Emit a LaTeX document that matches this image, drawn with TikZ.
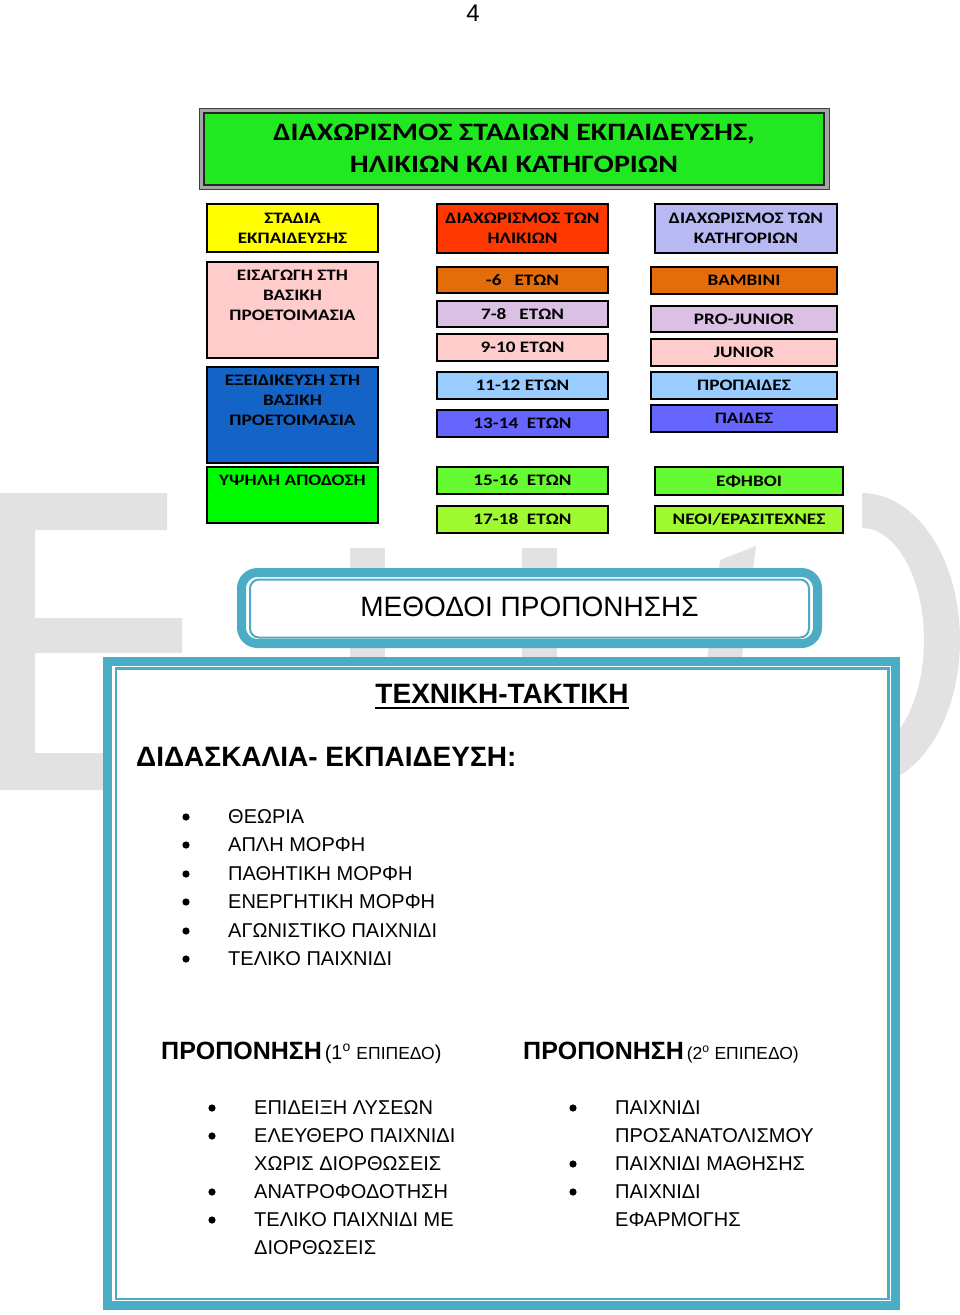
\documentclass[tikz,border=0pt]{standalone}
\usepackage{fontspec}
\setmainfont{Liberation Sans}
\newfontfamily\calib[FakeStretch=1.2]{Carlito}
\usetikzlibrary{positioning}
\definecolor{wmgray}{RGB}{226,226,226}
\definecolor{titlegreen}{RGB}{34,232,34}
\definecolor{stageyellow}{RGB}{255,255,0}
\definecolor{agered}{RGB}{255,55,0}
\definecolor{catlav}{RGB}{184,184,242}
\definecolor{pinkbox}{RGB}{255,204,204}
\definecolor{bluebox}{RGB}{20,100,200}
\definecolor{topgreen}{RGB}{0,250,0}
\definecolor{ageorange}{RGB}{228,108,10}
\definecolor{lilac}{RGB}{218,192,226}
\definecolor{skyblue}{RGB}{153,204,255}
\definecolor{violetblue}{RGB}{102,102,255}
\definecolor{limegreen}{RGB}{102,250,51}
\definecolor{yellowgreen}{RGB}{160,250,50}
\definecolor{aqua}{RGB}{75,172,198}
\begin{document}
\begin{tikzpicture}[x=1pt,y=-1pt,
  cell/.style={draw=black,line width=2.2pt,inner sep=0pt,align=center,font=\calib\bfseries\fontsize{16}{20}\selectfont},
  celltext/.style={inner sep=0pt,align=center,font=\calib\bfseries\fontsize{16}{20}\selectfont},
  bigtext/.style={inner sep=0pt,font=\bfseries\fontsize{28}{32}\selectfont},
  item/.style={anchor=west,inner sep=0pt,font=\fontsize{20}{24}\selectfont},
  wmark/.style={fill=wmgray,draw=none}]
\useasboundingbox (0,0) rectangle (960,1315);
\fill[white] (0,0) rectangle (960,1315);
\node (pagenum) [inner sep=0pt,font=\fontsize{24}{28}\selectfont] at (473,13) {4};
\fill[wmark] (0,493) -- (167,493) -- (167,530) -- (35,530) -- (35,618) -- (182,618) -- (182,653) -- (35,653) -- (35,753) -- (210,753) -- (210,790) -- (0,790) -- cycle;
\fill[wmark] (350,548) rectangle (385,790);
\fill[wmark] (522,548) rectangle (557,790);
\fill[wmark] (720,560) -- (756,546) -- (725,790) -- (690,790) -- cycle;
\begin{scope}
\clip (862,480) rectangle (970,800);
\fill[wmark,even odd rule] (862,640) ellipse [x radius=98,y radius=147] (862,640) ellipse [x radius=62,y radius=112];
\end{scope}
\draw[black!75,line width=1pt,fill=black!35] (199,108) rectangle (829,189);
\node (title) [draw=black!85,line width=2pt,fill=titlegreen,minimum width=620pt,minimum height=72pt,align=center,font=\calib\bfseries\fontsize{25}{32}\selectfont] at (514,148.5) {ΔΙΑΧΩΡΙΣΜΟΣ ΣΤΑΔΙΩΝ ΕΚΠΑΙΔΕΥΣΗΣ,\\ΗΛΙΚΙΩΝ ΚΑΙ ΚΑΤΗΓΟΡΙΩΝ};
\node (stages) [cell,fill=stageyellow,minimum width=171pt,minimum height=48pt] at (292.5,228) {ΣΤΑΔΙΑ\\ΕΚΠΑΙΔΕΥΣΗΣ};
\node (ages) [cell,fill=agered,minimum width=171pt,minimum height=49pt] at (522.5,228.5) {ΔΙΑΧΩΡΙΣΜΟΣ ΤΩΝ\\ΗΛΙΚΙΩΝ};
\node (categories) [cell,fill=catlav,minimum width=182pt,minimum height=49pt] at (746,228.5) {ΔΙΑΧΩΡΙΣΜΟΣ ΤΩΝ\\ΚΑΤΗΓΟΡΙΩΝ};
\node (intro) [cell,fill=pinkbox,minimum width=171pt,minimum height=96pt] at (292.5,310) {};
\node (introtext) [celltext,below=9pt of intro.north] {ΕΙΣΑΓΩΓΗ ΣΤΗ\\ΒΑΣΙΚΗ\\ΠΡΟΕΤΟΙΜΑΣΙΑ};
\node (special) [cell,fill=bluebox,minimum width=171pt,minimum height=96pt] at (292.5,415) {};
\node (specialtext) [celltext,below=9pt of special.north] {ΕΞΕΙΔΙΚΕΥΣΗ ΣΤΗ\\ΒΑΣΙΚΗ\\ΠΡΟΕΤΟΙΜΑΣΙΑ};
\node (high) [cell,fill=topgreen,minimum width=171pt,minimum height=56pt] at (292.5,495) {};
\node (hightext) [celltext,below=9pt of high.north] {ΥΨΗΛΗ ΑΠΟΔΟΣΗ};
\node (age6) [cell,fill=ageorange,minimum width=171pt,minimum height=26pt] at (522.5,280) {-6\ \ \ ΕΤΩΝ};
\node (age8) [cell,fill=lilac,minimum width=171pt,minimum height=26pt] at (522.5,314) {7-8\ \ \ ΕΤΩΝ};
\node (age10) [cell,fill=pinkbox,minimum width=171pt,minimum height=27pt] at (522.5,347.5) {9-10 ΕΤΩΝ};
\node (age12) [cell,fill=skyblue,minimum width=171pt,minimum height=27pt] at (522.5,385.5) {11-12 ΕΤΩΝ};
\node (age14) [cell,fill=violetblue,minimum width=171pt,minimum height=27pt] at (522.5,423.5) {13-14\ \ ΕΤΩΝ};
\node (age16) [cell,fill=limegreen,minimum width=171pt,minimum height=27pt] at (522.5,480.5) {15-16\ \ ΕΤΩΝ};
\node (age18) [cell,fill=yellowgreen,minimum width=171pt,minimum height=27pt] at (522.5,519.5) {17-18\ \ ΕΤΩΝ};
\node (bambini) [cell,fill=ageorange,minimum width=186pt,minimum height=27pt] at (744,280.5) {BAMBINI};
\node (projunior) [cell,fill=lilac,minimum width=186pt,minimum height=26pt] at (744,319) {PRO-JUNIOR};
\node (junior) [cell,fill=pinkbox,minimum width=186pt,minimum height=27pt] at (744,352.5) {JUNIOR};
\node (propaides) [cell,fill=skyblue,minimum width=186pt,minimum height=27pt] at (744,385.5) {ΠΡΟΠΑΙΔΕΣ};
\node (paides) [cell,fill=violetblue,minimum width=186pt,minimum height=27pt] at (744,418.5) {ΠΑΙΔΕΣ};
\node (efivoi) [cell,fill=limegreen,minimum width=188pt,minimum height=28pt] at (749,481) {ΕΦΗΒΟΙ};
\node (neoi) [cell,fill=yellowgreen,minimum width=188pt,minimum height=27pt] at (749,519.5) {ΝΕΟΙ/ΕΡΑΣΙΤΕΧΝΕΣ};
\draw[aqua,line width=9pt,rounded corners=16pt,fill=white] (241.5,572.5) rectangle (817.5,643.5);
\draw[aqua,line width=2pt,rounded corners=9pt] (250,579.5) rectangle (809,637.5);
\node (methods) [inner sep=0pt,font=\fontsize{28}{32}\selectfont] at (529.5,607) {ΜΕΘΟΔΟΙ ΠΡΟΠΟΝΗΣΗΣ};
\draw[aqua,line width=9pt,fill=white] (107.5,661.5) rectangle (895.5,1305.5);
\draw[aqua,line width=2.5pt] (116,668.5) rectangle (888.5,1299);
\node (technique) [bigtext] at (502,694) {ΤΕΧΝΙΚΗ-ΤΑΚΤΙΚΗ};
\draw[line width=2pt] ([yshift=-4pt]technique.south west) -- ([yshift=-4pt]technique.south east);
\node (teaching) [bigtext,anchor=west] at (136,757) {ΔΙΔΑΣΚΑΛΙΑ- ΕΚΠΑΙΔΕΥΣΗ:};
\fill (186,817) circle [radius=3.6pt];
\fill (186,845) circle [radius=3.6pt];
\fill (186,874) circle [radius=3.6pt];
\fill (186,902) circle [radius=3.6pt];
\fill (186,931) circle [radius=3.6pt];
\fill (186,959) circle [radius=3.6pt];
\node (theory) [item] at (228,817) {ΘΕΩΡΙΑ};
\node (simple) [item] at (228,845) {ΑΠΛΗ ΜΟΡΦΗ};
\node (passive) [item] at (228,874) {ΠΑΘΗΤΙΚΗ ΜΟΡΦΗ};
\node (active) [item] at (228,902) {ΕΝΕΡΓΗΤΙΚΗ ΜΟΡΦΗ};
\node (contest) [item] at (228,931) {ΑΓΩΝΙΣΤΙΚΟ ΠΑΙΧΝΙΔΙ};
\node (final) [item] at (228,959) {ΤΕΛΙΚΟ ΠΑΙΧΝΙΔΙ};
\node (level1) [anchor=base west,inner sep=0pt] at (161,1059) {{\bfseries\fontsize{25}{30}\selectfont ΠΡΟΠΟΝΗΣΗ}\ {\fontsize{20}{24}\selectfont (1\textsuperscript{o} }{\fontsize{17.5}{20}\selectfont ΕΠΙΠΕΔΟ}{\fontsize{20}{24}\selectfont )}};
\node (level2) [anchor=base west,inner sep=0pt] at (523,1059) {{\bfseries\fontsize{25}{30}\selectfont ΠΡΟΠΟΝΗΣΗ}\ {\fontsize{17.5}{20}\selectfont (2\textsuperscript{o} ΕΠΙΠΕΔΟ)}};
\fill (212,1108) circle [radius=3.6pt];
\fill (212,1136) circle [radius=3.6pt];
\fill (212,1192) circle [radius=3.6pt];
\fill (212,1220) circle [radius=3.6pt];
\node (demo) [item] at (254,1108) {ΕΠΙΔΕΙΞΗ ΛΥΣΕΩΝ};
\node (free) [item] at (254,1136) {ΕΛΕΥΘΕΡΟ ΠΑΙΧΝΙΔΙ};
\node (freeb) [item] at (254,1164) {ΧΩΡΙΣ ΔΙΟΡΘΩΣΕΙΣ};
\node (feedback) [item] at (254,1192) {ΑΝΑΤΡΟΦΟΔΟΤΗΣΗ};
\node (corr) [item] at (254,1220) {ΤΕΛΙΚΟ ΠΑΙΧΝΙΔΙ ΜΕ};
\node (corrb) [item] at (254,1248) {ΔΙΟΡΘΩΣΕΙΣ};
\fill (573,1108) circle [radius=3.6pt];
\fill (573,1164) circle [radius=3.6pt];
\fill (573,1192) circle [radius=3.6pt];
\node (orient) [item] at (615,1108) {ΠΑΙΧΝΙΔΙ};
\node (orientb) [item] at (615,1136) {ΠΡΟΣΑΝΑΤΟΛΙΣΜΟΥ};
\node (learn) [item] at (615,1164) {ΠΑΙΧΝΙΔΙ ΜΑΘΗΣΗΣ};
\node (apply) [item] at (615,1192) {ΠΑΙΧΝΙΔΙ};
\node (applyb) [item] at (615,1220) {ΕΦΑΡΜΟΓΗΣ};
\end{tikzpicture}
\end{document}
